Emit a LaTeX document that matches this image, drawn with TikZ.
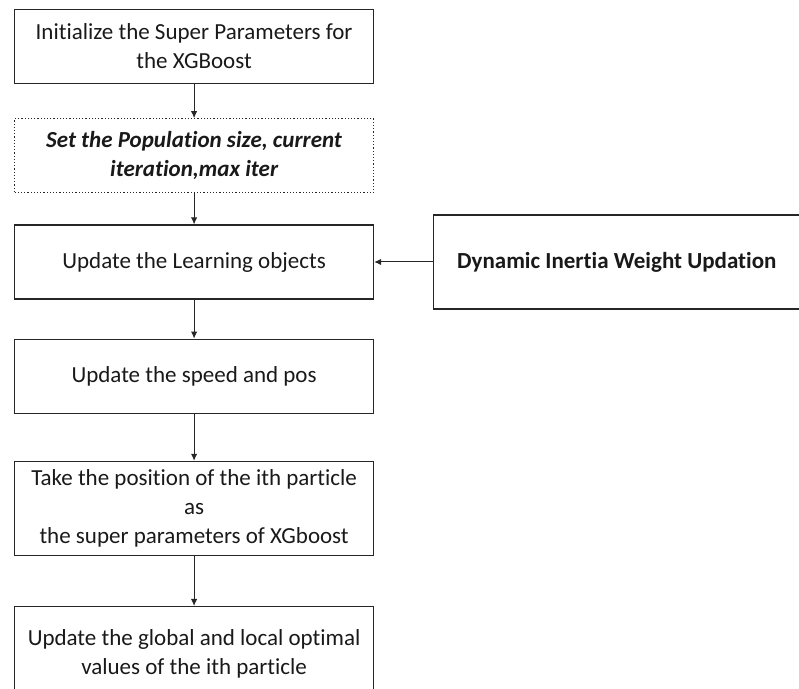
\documentclass[tikz,border=0pt]{standalone}
\usepackage{fontspec}
\setmainfont{Carlito}[Ligatures={NoCommon}]
\usetikzlibrary{positioning,arrows.meta}
\tikzset{
  line/.style = {-{Latex[length=3.5pt,width=3.2pt]}, line width=0.5pt, draw=black!85},
  box/.style  = {draw=black!85, line width=0.6pt, align=center, inner sep=2pt, text=black!90, font=\fontsize{11.5}{14.5}\selectfont},
  stepbox/.style = {box, minimum width=179.5pt, minimum height=37pt},
  tallbox/.style = {box, minimum width=179.5pt, minimum height=47pt},
  dotbox/.style  = {stepbox, densely dotted, font=\fontsize{11.5}{14.5}\selectfont\bfseries\itshape},
}
\begin{document}
\begin{tikzpicture}
  \useasboundingbox (0,0) rectangle (399.5pt,-344.5pt);
  \node[stepbox, anchor=north west] (init) at (7pt,-4.5pt) {Initialize the Super Parameters for\\the XGBoost};
  \node[dotbox, below=17pt of init] (pop) {Set the Population size, current\\iteration,max iter};
  \node[stepbox, below=15.5pt of pop] (learn) {Update the Learning objects};
  \node[tallbox, minimum width=183pt, right=29.5pt of learn, font=\fontsize{11.5}{14.5}\selectfont\bfseries] (inertia) {Dynamic Inertia Weight Updation};
  \node[stepbox, below=19.5pt of learn] (speed) {Update the speed and pos};
  \node[tallbox, below=23.5pt of speed] (take) {Take the position of the ith particle\\as\\the super parameters of XGboost};
  \node[tallbox, below=25pt of take] (optim) {Update the global and local optimal\\values of the ith particle};
  \draw[line] (init) -- (pop);
  \draw[line] (pop) -- (learn);
  \draw[line] (inertia) -- (learn);
  \draw[line] (learn) -- (speed);
  \draw[line] (speed) -- (take);
  \draw[line] (take) -- (optim);
\end{tikzpicture}
\end{document}
